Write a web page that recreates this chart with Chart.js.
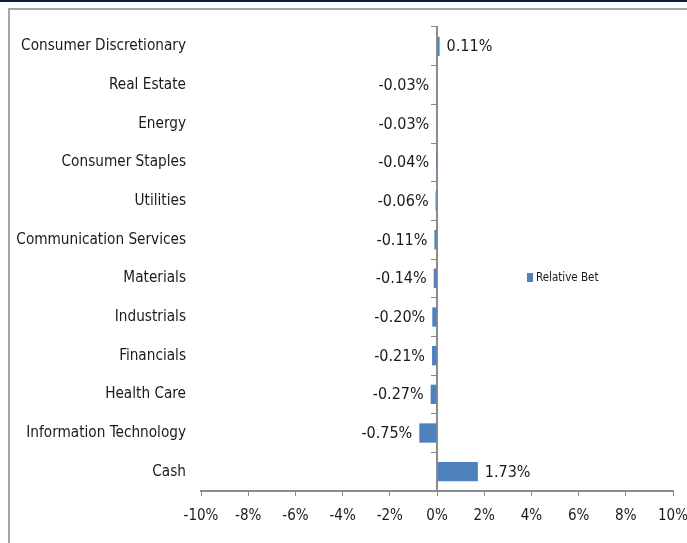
<!DOCTYPE html>
<html>
<head>
<meta charset="utf-8">
<script src="https://cdn.jsdelivr.net/npm/chart.js@4.4.1/dist/chart.umd.min.js"></script>
<style>
  html, body { margin: 0; padding: 0; background: #fff; }
  #wrap { position: relative; width: 687px; height: 543px; overflow: hidden; }
  #topline { position: absolute; left: 0; top: 0; width: 687px; height: 2px; background: #0d1b3e; }
  #frame { position: absolute; left: 8px; top: 8px; width: 700px; height: 560px;
           border-top: 2px solid #a6a6a6; border-left: 2px solid #a6a6a6; }
  canvas { position: absolute; left: 0; top: 0; }
</style>
</head>
<body>
<div id="wrap">
  <div id="topline"></div>
  <div id="frame"></div>
  <canvas id="betChart" width="687" height="543"></canvas>
</div>
<script>
const sectors = [
  'Consumer Discretionary', 'Real Estate', 'Energy', 'Consumer Staples', 'Utilities',
  'Communication Services', 'Materials', 'Industrials', 'Financials', 'Health Care',
  'Information Technology', 'Cash'
];
const relativeBet = [0.11, -0.03, -0.03, -0.04, -0.06, -0.11, -0.14, -0.20, -0.21, -0.27, -0.75, 1.73];
const xTicks = [-10, -8, -6, -4, -2, 0, 2, 4, 6, 8, 10];

const FONT = '"DejaVu Sans Condensed", "Liberation Sans Narrow", sans-serif';
const barColor = '#4f81bd';
const axisColor = '#8c8c8c';

// value labels at the end of each bar
const barLabels = {
  id: 'barLabels',
  afterDatasetsDraw(chart) {
    const ctx = chart.ctx;
    const meta = chart.getDatasetMeta(0);
    ctx.save();
    ctx.font = '16px ' + FONT;
    ctx.fillStyle = '#1a1a1a';
    ctx.textBaseline = 'middle';
    meta.data.forEach((bar, i) => {
      const v = relativeBet[i];
      const txt = v.toFixed(2) + '%';
      if (v >= 0) {
        ctx.textAlign = 'left';
        ctx.fillText(txt, bar.x + 7, bar.y + 1);
      } else {
        ctx.textAlign = 'right';
        ctx.fillText(txt, bar.x - 7, bar.y + 1);
      }
    });
    ctx.restore();
  }
};

// legend box inside the plot, like the original
const sideLegend = {
  id: 'sideLegend',
  afterDraw(chart) {
    const ctx = chart.ctx;
    ctx.save();
    ctx.fillStyle = barColor;
    ctx.fillRect(527, 273, 6, 9);
    ctx.font = '11.5px ' + FONT;
    ctx.fillStyle = '#1a1a1a';
    ctx.textBaseline = 'middle';
    ctx.textAlign = 'left';
    ctx.fillText(chart.data.datasets[0].label, 536, 278);
    ctx.restore();
  }
};

new Chart(document.getElementById('betChart'), {
  type: 'bar',
  data: {
    labels: sectors,
    datasets: [{
      label: 'Relative Bet',
      data: relativeBet,
      backgroundColor: barColor,
      borderWidth: 0,
      barPercentage: 0.5,
      categoryPercentage: 1.0
    }]
  },
  options: {
    indexAxis: 'y',
    responsive: false,
    animation: false,
    layout: { padding: { top: 27, right: 14, bottom: 0, left: 0 } },
    plugins: {
      legend: { display: false },
      tooltip: { enabled: false }
    },
    scales: {
      x: {
        min: -10,
        max: 10,
        afterBuildTicks: (axis) => { axis.ticks = xTicks.map(v => ({ value: v })); },
        grid: { drawOnChartArea: false, drawTicks: true, tickLength: 5, color: axisColor, lineWidth: 1 },
        border: { display: true, color: axisColor, width: 2 },
        ticks: {
          padding: 11,
          color: '#1a1a1a',
          font: { family: FONT, size: 15 },
          callback: (v) => v + '%'
        },
        afterFit: (axis) => {
          axis.height = 52;
          axis.paddingLeft = 0;
          axis.paddingRight = 0;
        }
      },
      y: {
        position: 'left',
        grid: { display: false, drawTicks: false },
        border: { display: false },
        ticks: {
          padding: 15,
          color: '#1a1a1a',
          font: { family: FONT, size: 15.2 }
        },
        afterFit: (axis) => { axis.width = 201; }
      },
      yZero: {
        type: 'category',
        position: { x: 0 },
        offset: true,
        grid: { drawOnChartArea: false, drawTicks: true, tickLength: 5, offset: true, color: axisColor },
        border: { display: true, color: axisColor, width: 2 },
        ticks: { display: false }
      }
    }
  },
  plugins: [barLabels, sideLegend]
});
</script>
</body>
</html>
